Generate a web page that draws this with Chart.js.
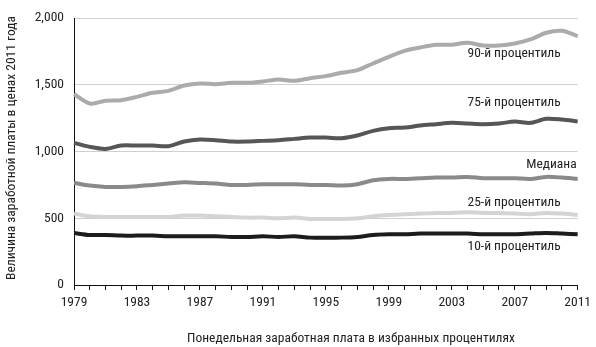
<!DOCTYPE html>
<html>
<head>
<meta charset="utf-8">
<script src="https://cdn.jsdelivr.net/npm/chart.js@4/dist/chart.umd.min.js"></script>
<style>
html,body{margin:0;padding:0;background:#fff;}
#wrap{width:596px;height:347px;position:relative;}
</style>
</head>
<body>
<div id="wrap"><canvas id="c" width="596" height="347"></canvas></div>
<script>
const years = [1979,1980,1981,1982,1983,1984,1985,1986,1987,1988,1989,1990,1991,1992,1993,1994,1995,1996,1997,1998,1999,2000,2001,2002,2003,2004,2005,2006,2007,2008,2009,2010,2011];
const p90 = [1430,1360,1380,1385,1410,1440,1455,1495,1510,1505,1515,1515,1525,1540,1530,1550,1565,1590,1610,1660,1710,1755,1780,1800,1800,1815,1795,1795,1810,1840,1890,1905,1865];
const p75 = [1065,1035,1020,1045,1045,1045,1040,1075,1090,1085,1075,1075,1080,1085,1095,1105,1105,1100,1120,1155,1175,1180,1195,1205,1215,1210,1205,1210,1225,1215,1245,1240,1225];
const p50 = [765,745,735,735,740,750,760,770,765,760,750,750,755,755,755,750,750,745,755,785,795,795,800,805,805,810,800,800,800,795,810,805,795];
const p25 = [535,515,510,510,510,510,510,520,520,515,510,505,505,500,505,495,495,495,500,515,525,530,535,540,540,545,540,540,535,530,540,535,525];
const p10 = [390,375,375,370,370,370,365,365,365,365,360,360,365,360,365,355,355,355,360,375,380,380,385,385,385,385,380,380,380,385,390,385,380];
const seriesLabels = ['90-й процентиль','75-й процентиль','Медиана','25-й процентиль','10-й процентиль'];
const yTicks = [0,500,1000,1500,2000];
const yTitle = 'Величина заработной платы в ценах 2011 года';
const xTitle = 'Понедельная заработная плата в избранных процентилях';

const FONT = "'Roboto Condensed','Liberation Sans Narrow','DejaVu Sans Condensed','Roboto',sans-serif";
const TXT = '#222';

const labelPlugin = {
  id: 'labels',
  afterDraw(chart) {
    const ctx = chart.ctx;
    const ca = chart.chartArea;
    ctx.save();
    ctx.fillStyle = TXT;
    ctx.font = '13.5px ' + FONT;
    const place = [
      [seriesLabels[0], ca.right - 17, 57],
      [seriesLabels[1], ca.right - 17, 106],
      [seriesLabels[2], ca.right - 1, 168],
      [seriesLabels[3], ca.right - 17, 206],
      [seriesLabels[4], ca.right - 17, 250]
    ];
    ctx.textAlign = 'right';
    ctx.textBaseline = 'alphabetic';
    place.forEach(p => ctx.fillText(p[0], p[1], p[2]));
    ctx.textAlign = 'center';
    ctx.fillText(xTitle, 351, 342);
    ctx.save();
    ctx.translate(15, 148);
    ctx.rotate(-Math.PI / 2);
    ctx.fillText(yTitle, 0, 0);
    ctx.restore();
    ctx.restore();
  }
};

function ds(label, data, color) {
  return { label, data, borderColor: color, backgroundColor: color, borderWidth: 4,
           pointRadius: 0, tension: 0.3, fill: false, borderCapStyle: 'butt', borderJoinStyle: 'round' };
}

new Chart(document.getElementById('c'), {
  type: 'line',
  data: {
    labels: years.map(String),
    datasets: [
      ds(seriesLabels[4], p10, '#1c1c1c'),
      ds(seriesLabels[3], p25, '#d4d4d4'),
      ds(seriesLabels[2], p50, '#8a8a8a'),
      ds(seriesLabels[1], p75, '#565656'),
      ds(seriesLabels[0], p90, '#ababab')
    ]
  },
  options: {
    responsive: false,
    animation: false,
    devicePixelRatio: 1,
    layout: { padding: { top: 8, right: 12, left: 0, bottom: 0 } },
    plugins: { legend: { display: false }, tooltip: { enabled: false }, title: { display: false } },
    scales: {
      x: {
        type: 'category',
        offset: false,
        afterFit(s) { s.height = 62; },
        border: { display: true, color: '#111', width: 1 },
        grid: { drawOnChartArea: false, drawTicks: true, tickLength: 5, color: '#111', offset: false },
        ticks: {
          autoSkip: false, maxRotation: 0, minRotation: 0, padding: 5,
          color: TXT, font: { family: FONT, size: 13.5 },
          callback(v, i) { return (years[i] - 1979) % 4 === 0 ? String(years[i]) : ''; }
        }
      },
      y: {
        min: 0, max: 2000,
        afterFit(s) { s.width = 74; },
        afterBuildTicks(s) { s.ticks = yTicks.map(v => ({ value: v })); },
        border: { display: true, color: '#111', width: 1 },
        grid: { color: (c) => c.tick && c.tick.value === 0 ? 'rgba(0,0,0,0)' : '#cfcfcf', lineWidth: 1, drawTicks: false },
        ticks: {
          padding: 10, color: TXT, font: { family: FONT, size: 13.5 },
          callback(v) { return v.toLocaleString('en-US'); }
        }
      }
    }
  },
  plugins: [labelPlugin]
});
</script>
</body>
</html>
